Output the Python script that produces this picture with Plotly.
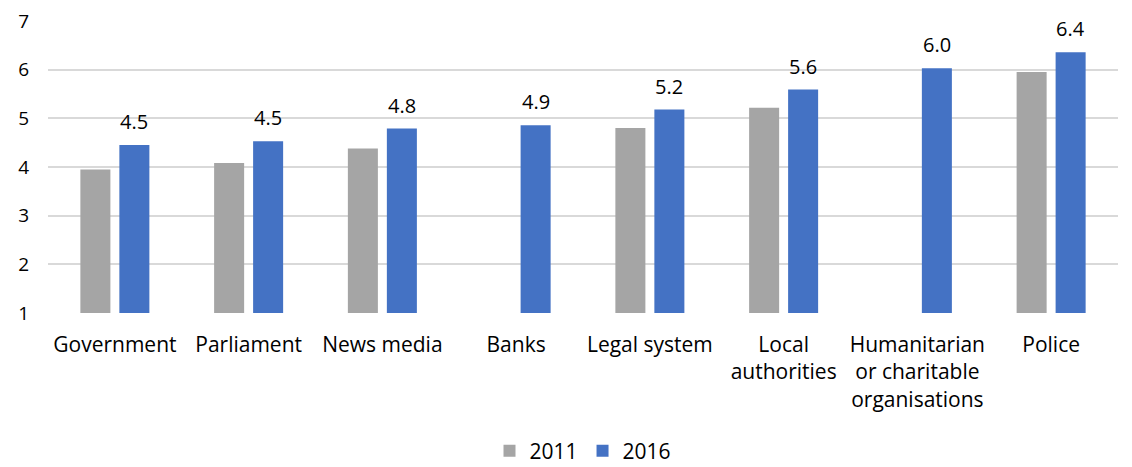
import plotly.graph_objects as go

categories = ["Government", "Parliament", "News media", "Banks", "Legal system",
              "Local<br>authorities", "Humanitarian<br>or charitable<br>organisations", "Police"]
values_2011 = [3.95, 4.08, 4.38, None, 4.80, 5.22, None, 5.95]
values_2016 = [4.45, 4.53, 4.79, 4.86, 5.18, 5.59, 6.03, 6.36]
y_ticks = [1, 2, 3, 4, 5, 6, 7]

FONT = "Open Sans, Carlito, Calibri, sans-serif"
GREY = "#a5a5a5"
BLUE = "#4472c4"

fig = go.Figure()
fig.add_trace(go.Bar(name="2011", x=categories, y=values_2011, marker_color=GREY,
                     marker_line_width=0))
fig.add_trace(go.Bar(name="2016", x=categories, y=values_2016, marker_color=BLUE,
                     marker_line_width=0))

# value labels above the 2016 bars
for cat, v in zip(categories, values_2016):
    fig.add_annotation(x=cat, y=v, text=f"{v:.1f}", showarrow=False,
                       xshift=19.5, yshift=8, yanchor="bottom",
                       font=dict(family=FONT, size=20, color="#000000"))

fig.update_layout(
    width=1132, height=467,
    margin=dict(l=48, r=14, t=21, b=154, autoexpand=False),
    paper_bgcolor="white", plot_bgcolor="white",
    barmode="group", bargap=0.417, bargroupgap=0.23,
    font=dict(family=FONT, size=20, color="#000000"),
    showlegend=True,
    legend=dict(orientation="h", x=0.5, xanchor="center", yref="container",
                y=0.034, yanchor="middle", font=dict(family=FONT, size=21),
                itemwidth=30, tracegroupgap=0),
)
fig.update_xaxes(showgrid=False, showline=False, ticks="", tickangle=0, automargin=False,
                 tickfont=dict(family=FONT, size=21), ticklabelstandoff=17)
fig.update_yaxes(range=[1, 7], tickvals=y_ticks, showgrid=True, gridcolor="#d9d9d9",
                 gridwidth=1.5, zeroline=False, showline=False, ticks="", automargin=False,
                 tickfont=dict(family=FONT, size=19), ticklabelstandoff=18)

fig.write_html("out.html")
